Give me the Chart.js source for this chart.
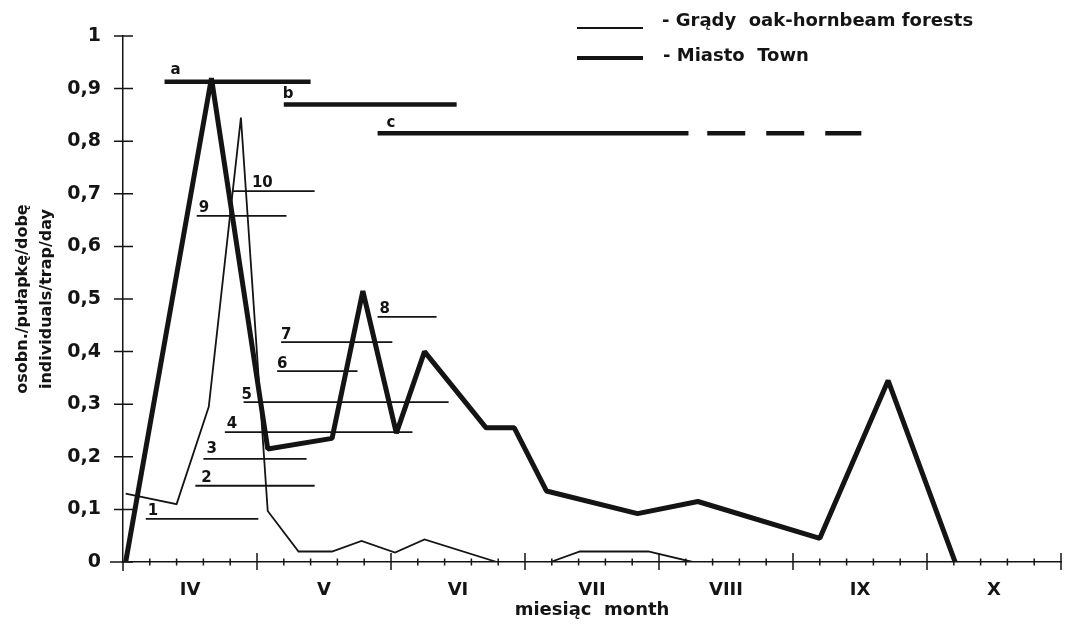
<!DOCTYPE html>
<html>
<head>
<meta charset="utf-8">
<script src="https://cdn.jsdelivr.net/npm/chart.js@4.4.1/dist/chart.umd.min.js"></script>
<style>
  html, body { margin: 0; padding: 0; background: #fff; }
  #wrap { position: relative; width: 1069px; height: 624px; }
  #chart { display: block; }
  .key { position: absolute; left: 577px; width: 66px; background: #141414; }
  .key-text { position: absolute; font: bold 18px 'DejaVu Sans', sans-serif; line-height: 20px; white-space: pre; color: #141414; }
</style>
</head>
<body>
<div id="wrap">
  <canvas id="chart" width="1069" height="624"></canvas>
  <div class="key" style="top:27px;height:1.8px"></div>
  <div class="key-text" style="left:662px;top:10px">- Grądy  oak-hornbeam forests</div>
  <div class="key" style="top:56px;height:4px"></div>
  <div class="key-text" style="left:663px;top:45px">- Miasto  Town</div>
</div>
<script>
// ── Dane (x = miesiące od początku IV, y = osobn./pułapkę/dobę) ──
const MONTHS = ['IV', 'V', 'VI', 'VII', 'VIII', 'IX', 'X'];
const Y_TICK_LABELS = ['0', '0,1', '0,2', '0,3', '0,4', '0,5', '0,6', '0,7', '0,8', '0,9', '1'];
const Y_TITLE = ['osobn./pułapkę/dobę', 'individuals/trap/day'];
const X_TITLE = 'miesiąc  month';

// Grądy – cienka linia
const GRADY_X = [0.02, 0.40, 0.64, 0.88, 1.08, 1.31, 1.56, 1.78, 2.03, 2.25, 2.79, 3.19, 3.41, 3.92, 4.25];
const GRADY_Y = [0.13, 0.11, 0.295, 0.845, 0.097, 0.02, 0.02, 0.04, 0.018, 0.043, 0, 0, 0.02, 0.02, 0];

// Miasto – gruba linia
const MIASTO_X = [0.02, 0.66, 1.08, 1.56, 1.79, 2.04, 2.25, 2.71, 2.92, 3.16, 3.84, 4.29, 5.20, 5.71, 6.21];
const MIASTO_Y = [0, 0.92, 0.215, 0.235, 0.515, 0.245, 0.40, 0.255, 0.255, 0.135, 0.092, 0.115, 0.045, 0.345, 0];

// okresy 1–10 (cienkie odcinki)
const PERIOD_NAMES = ['1', '2', '3', '4', '5', '6', '7', '8', '9', '10'];
const PERIOD_FROM = [0.17, 0.54, 0.60, 0.76, 0.90, 1.15, 1.18, 1.90, 0.55, 0.82];
const PERIOD_TO = [1.01, 1.43, 1.37, 2.16, 2.43, 1.75, 2.01, 2.34, 1.22, 1.43];
const PERIOD_LEVEL = [0.082, 0.145, 0.196, 0.247, 0.304, 0.363, 0.418, 0.466, 0.658, 0.705];

// okresy a, b, c (grube odcinki), c ma przerywane przedłużenie
const PHASE_NAMES = ['a', 'b', 'c'];
const PHASE_FROM = [0.31, 1.20, 1.90];
const PHASE_TO = [1.40, 2.49, 4.22];
const PHASE_LEVEL = [0.913, 0.87, 0.815];
const PHASE_C_TAIL = [4.36, 5.51];

const INK = '#141414';
Chart.defaults.font.family = "'DejaVu Sans', sans-serif";
Chart.defaults.color = INK;

function line(xs, ys, width, extra) {
  return {
    data: xs.map((x, i) => ({ x, y: ys[i] })),
    borderColor: INK,
    borderWidth: width,
    pointRadius: 0,
    tension: 0,
    fill: false,
    borderCapStyle: 'butt',
    ...extra,
  };
}

// przesunięcia etykiet względem początku odcinka [dx, dy]
const LABEL_SHIFT = { '2': [6, 4], '3': [3, 6], '5': [-2, 3], '6': [0, 3], '7': [0, 3], '10': [19, 4] };
const PHASE_SHIFT = { a: [6, 8], b: [-1, 6], c: [9, 6] };

const segmentLabels = {
  id: 'segmentLabels',
  afterDatasetsDraw(chart) {
    const { ctx, scales: { x, y } } = chart;
    ctx.save();
    ctx.fillStyle = INK;
    ctx.font = "bold 15px 'DejaVu Sans'";
    ctx.textBaseline = 'alphabetic';
    PERIOD_NAMES.forEach((name, i) => {
      const [dx, dy] = LABEL_SHIFT[name] || [2, 4];
      ctx.fillText(name, x.getPixelForValue(PERIOD_FROM[i]) + dx, y.getPixelForValue(PERIOD_LEVEL[i]) - dy);
    });
    PHASE_NAMES.forEach((name, i) => {
      const [dx, dy] = PHASE_SHIFT[name];
      ctx.fillText(name, x.getPixelForValue(PHASE_FROM[i]) + dx, y.getPixelForValue(PHASE_LEVEL[i]) - dy);
    });
    ctx.restore();
  },
};

// kreski podziałki przecinające osie
const crossTicks = {
  id: 'crossTicks',
  beforeDatasetsDraw(chart) {
    const { ctx, chartArea: a, scales: { x, y } } = chart;
    ctx.save();
    ctx.strokeStyle = INK;
    ctx.lineWidth = 1.5;
    ctx.beginPath();
    ctx.moveTo(a.left - 13, a.bottom);
    ctx.lineTo(a.left, a.bottom);
    ctx.moveTo(a.left, a.bottom);
    ctx.lineTo(a.left, a.bottom + 9);
    y.ticks.forEach((t) => {
      const py = y.getPixelForValue(t.value);
      ctx.moveTo(a.left - 9, py);
      ctx.lineTo(a.left + 10, py);
    });
    for (let k = 1; k <= MONTHS.length * 5; k++) {
      const px = x.getPixelForValue(k / 5);
      const major = k % 5 === 0;
      ctx.moveTo(px, a.bottom - (major ? 9 : 3.5));
      ctx.lineTo(px, a.bottom + (major ? 8 : 3.5));
    }
    ctx.stroke();
    ctx.restore();
  },
};

new Chart(document.getElementById('chart'), {
  type: 'line',
  data: {
    datasets: [
      line(GRADY_X, GRADY_Y, 1.8),
      line(MIASTO_X, MIASTO_Y, 5, { borderJoinStyle: 'bevel' }),
      ...PERIOD_NAMES.map((_, i) =>
        line([PERIOD_FROM[i], PERIOD_TO[i]], [PERIOD_LEVEL[i], PERIOD_LEVEL[i]], 1.8)),
      ...PHASE_NAMES.map((_, i) =>
        line([PHASE_FROM[i], PHASE_TO[i]], [PHASE_LEVEL[i], PHASE_LEVEL[i]], 4.5)),
      line(PHASE_C_TAIL, [PHASE_LEVEL[2], PHASE_LEVEL[2]], 4.5, { borderDash: [38, 21] }),
    ],
  },
  options: {
    responsive: false,
    animation: false,
    layout: { padding: { top: 36, right: 8, bottom: 0, left: 0 } },
    plugins: { legend: { display: false }, tooltip: { enabled: false } },
    scales: {
      x: {
        type: 'linear',
        min: 0,
        max: MONTHS.length,
        afterFit: (s) => { s.height = 62; },
        afterBuildTicks: (s) => { s.ticks = MONTHS.map((_, i) => ({ value: i + 0.5 })); },
        ticks: {
          autoSkip: false,
          maxRotation: 0,
          padding: 18,
          color: INK,
          font: { size: 18, weight: 'bold' },
          callback: (v, i) => MONTHS[i],
        },
        grid: { display: false, drawTicks: false },
        border: { display: true, color: INK, width: 1.5 },
        title: {
          display: true,
          text: X_TITLE,
          color: INK,
          font: { size: 18, weight: 'bold', lineHeight: 1.2 },
          padding: { top: 0, bottom: 3 },
        },
      },
      y: {
        min: 0,
        max: 1,
        afterFit: (s) => { s.width = 123; },
        ticks: {
          stepSize: 0.1,
          padding: 22,
          color: INK,
          font: { size: 19, weight: 'bold' },
          callback: (v, i) => Y_TICK_LABELS[i],
        },
        grid: { display: false, drawTicks: false },
        border: { display: true, color: INK, width: 1.5 },
        title: {
          display: true,
          text: Y_TITLE,
          color: INK,
          font: { size: 16, weight: 'bold', lineHeight: 1.5 },
          padding: { top: 11, bottom: 0 },
        },
      },
    },
  },
  plugins: [crossTicks, segmentLabels],
});
</script>
</body>
</html>
